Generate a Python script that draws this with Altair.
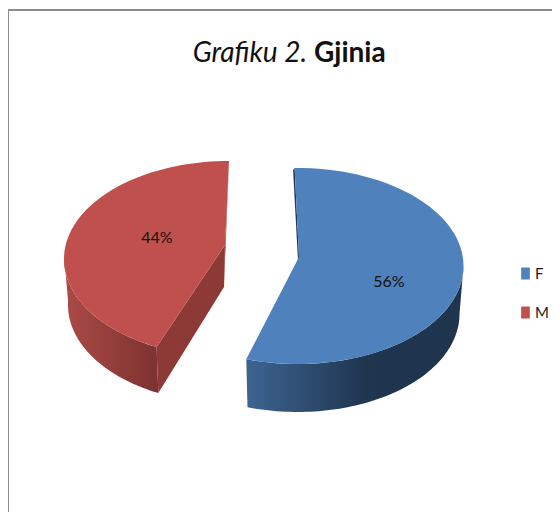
import math
import altair as alt

# ---- chart content ----
CATEGORIES = ["F", "M"]
SHARES = [56, 44]
LABELS = ["56%", "44%"]
TITLE_PLAIN = "Grafiku 2."
TITLE_BOLD = "Gjinia"

FACE_COLORS = ["#4f81bd", "#c0504d"]

# ---- layout: pixels inside the view ----
W, H = 544, 504
FONT = "Lato"
BLUE = dict(cx=289.5, cy=258, rx=166, ry=98, lower_rx=162, depth=48, ax=291, ay=249)
RED = dict(cx=221, cy=251, rx=165, ry=98, lower_rx=161, depth=46, ax=217, ay=237)
FORESHORTEN = [0.987, 0.972]


def rim(g, deg, lower=False):
    a = math.radians(deg)
    rx = g["lower_rx"] if lower else g["rx"]
    dy = g["depth"] if lower else 0
    return [g["cx"] + rx * math.sin(a), g["cy"] - g["ry"] * math.cos(a) + dy]


def arc(g, a0, a1, lower=False, steps=72):
    return [rim(g, a0 + (a1 - a0) * i / steps, lower) for i in range(steps + 1)]


def feature(name, pts):
    ring = pts + [pts[0]]
    return {
        "type": "Feature",
        "properties": {"name": name},
        "geometry": {"type": "Polygon", "coordinates": [ring]},
    }


# angular extents on the rim derived from the shares
b0 = -1.0
b1 = b0 + SHARES[0] * 3.6 * FORESHORTEN[0]
r1 = 360.0
r0 = r1 - SHARES[1] * 3.6 * FORESHORTEN[1]

b_apex = [BLUE["ax"], BLUE["ay"]]
r_apex = [RED["ax"], RED["ay"]]

faces = [
    feature(CATEGORIES[0], [b_apex] + arc(BLUE, b0, b1)),
    feature(CATEGORIES[1], [r_apex] + arc(RED, r0, r1)),
]
blue_wall = [feature("bw", arc(BLUE, 90, b1) + arc(BLUE, b1, 90, True))]
red_wall = [feature("rw", arc(RED, r0, 272) + arc(RED, 272, r0, True))]

r_edge = rim(RED, r0)
r_edge_low = rim(RED, r0, True)
red_cut = [feature("rc", [r_edge, r_edge_low,
                          [r_apex[0] - 1, r_apex[1] + 42], r_apex])]
red_inner = [feature("ri", [rim(RED, r1), r_apex, [r_apex[0] - 1, r_apex[1] + 42]])]
b_top = rim(BLUE, b0)
blue_inner = [feature("bi", [b_top, [b_top[0] - 1.5, b_top[1] + 2], [b_apex[0] - 1, b_apex[1] + 4], b_apex])]

projection = alt.Projection(type="identity", scale=1, translate=[0, 0])


def polygons(features, fill):
    return alt.Chart(alt.Data(values=features)).mark_geoshape(
        fill=fill, stroke=None
    ).project(**projection.to_dict())


blue_wall_fill = alt.Gradient(
    gradient="linear", x1=0, x2=1, y1=0, y2=0,
    stops=[
        alt.GradientStop(color="#3d6491", offset=0),
        alt.GradientStop(color="#1f3550", offset=0.55),
        alt.GradientStop(color="#1f344d", offset=1),
    ],
)
red_wall_fill = alt.Gradient(
    gradient="linear", x1=0, x2=1, y1=0, y2=0,
    stops=[
        alt.GradientStop(color="#ab4b47", offset=0),
        alt.GradientStop(color="#7c322f", offset=1),
    ],
)

face_layer = (
    alt.Chart(alt.Data(values=faces))
    .mark_geoshape(strokeWidth=0)
    .encode(
        color=alt.Color(
            "properties.name:N",
            scale=alt.Scale(domain=CATEGORIES, range=FACE_COLORS),
            legend=alt.Legend(
                orient="none",
                legendX=510,
                legendY=258,
                title=None,
                symbolType="M-0.72,-1H0.72V1H-0.72Z",
                symbolSize=144,
                symbolStrokeWidth=0,
                labelFont=FONT,
                labelFontSize=15,
                labelColor="#1a1a1a",
                rowPadding=23,
                labelOffset=2,
            ),
        )
    )
    .project(**projection.to_dict())
)


def text_layer(text, px, py, size, font_style="normal", weight="normal", align="center"):
    return alt.Chart(alt.Data(values=[{"t": text}])).mark_text(
        font=FONT,
        fontSize=size,
        fontStyle=font_style,
        fontWeight=weight,
        color="#111111",
        align=align,
    ).encode(text="t:N", x=alt.value(px), y=alt.value(py))


border = alt.Chart(alt.Data(values=[{"k": 0}]))
left_line = border.mark_rule(color="#8c8c8c", strokeWidth=2).encode(
    x=alt.value(0), y=alt.value(2), y2=alt.value(H)
)
top_line = border.mark_rule(color="#8c8c8c", strokeWidth=2).encode(
    x=alt.value(0), x2=alt.value(W), y=alt.value(2)
)

chart = alt.layer(
    left_line,
    top_line,
    polygons(blue_inner, "#1f3650"),
    polygons(blue_wall, blue_wall_fill),
    polygons(red_inner, "#8d3a36"),
    polygons(red_wall, red_wall_fill),
    polygons(red_cut, "#8d3a36"),
    face_layer,
    text_layer(LABELS[0], 381, 274, 16),
    text_layer(LABELS[1], 149, 230, 16),
    text_layer(TITLE_PLAIN, 299, 46, 28, font_style="italic", align="right"),
    text_layer(TITLE_BOLD, 306, 46, 28, weight="bold", align="left"),
).properties(
    width=W,
    height=H,
    padding=0,
    autosize=alt.AutoSizeParams(type="none"),
).configure_view(stroke=None)

chart.save("out.html", embed_options={"renderer": "svg", "actions": False})
